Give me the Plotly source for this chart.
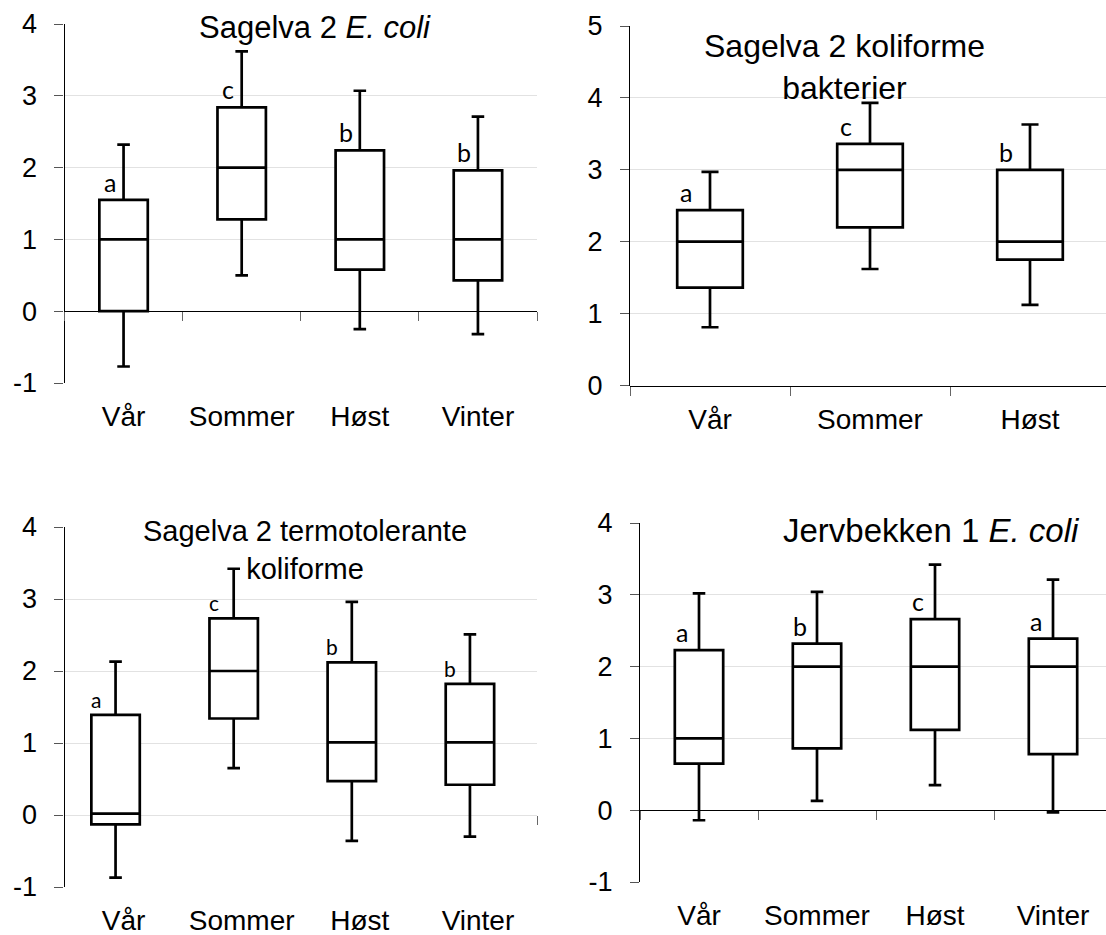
import numpy as np
import plotly.graph_objects as go

W, H = 1106, 935

seasons4 = ["Vår", "Sommer", "Høst", "Vinter"]
seasons3 = ["Vår", "Sommer", "Høst"]

# Sagelva 2, E. coli (log10 values)
s2_ecoli_low = [-0.77, 0.50, -0.25, -0.32]
s2_ecoli_q1 = [0.00, 1.28, 0.58, 0.43]
s2_ecoli_med = [1.00, 2.00, 1.00, 1.00]
s2_ecoli_q3 = [1.55, 2.84, 2.24, 1.96]
s2_ecoli_high = [2.32, 3.62, 3.07, 2.71]
s2_ecoli_sig = ["a", "c", "b", "b"]

# Sagelva 2, koliforme bakterier (no winter samples)
s2_kol_low = [0.81, 1.62, 1.12]
s2_kol_q1 = [1.36, 2.20, 1.75]
s2_kol_med = [2.00, 3.00, 2.00]
s2_kol_q3 = [2.44, 3.36, 3.00]
s2_kol_high = [2.97, 3.93, 3.63]
s2_kol_sig = ["a", "c", "b"]

# Sagelva 2, termotolerante koliforme
s2_tk_low = [-0.87, 0.65, -0.36, -0.30]
s2_tk_q1 = [-0.13, 1.34, 0.47, 0.42]
s2_tk_med = [0.02, 2.00, 1.01, 1.01]
s2_tk_q3 = [1.39, 2.73, 2.12, 1.82]
s2_tk_high = [2.13, 3.42, 2.96, 2.51]
s2_tk_sig = ["a", "c", "b", "b"]

# Jervbekken 1, E. coli
j1_ecoli_low = [-0.14, 0.13, 0.35, -0.03]
j1_ecoli_q1 = [0.65, 0.86, 1.12, 0.78]
j1_ecoli_med = [1.00, 2.00, 2.00, 2.00]
j1_ecoli_q3 = [2.23, 2.32, 2.66, 2.39]
j1_ecoli_high = [3.02, 3.04, 3.42, 3.21]
j1_ecoli_sig = ["a", "b", "c", "a"]

ARIAL = "Liberation Sans, Arial, sans-serif"
CALIBRI = "Lato, Open Sans, sans-serif"

# panel frames in pixels: left, right, top, bottom; slots = category widths visible
panels = [
    dict(title="Sagelva 2 <i>E. coli</i>", tpos=(315, 28), tsize=31,
         cats=seasons4, low=s2_ecoli_low, q1=s2_ecoli_q1, med=s2_ecoli_med,
         q3=s2_ecoli_q3, high=s2_ecoli_high, sig=s2_ecoli_sig,
         frame=(64.5, 537, 24, 383), slots=4.0, yr=(-1, 4),
         box_dx=0, sig_dx=-14, sig_size=25, zero_line=True),
    dict(title="Sagelva 2 koliforme<br>bakterier", tpos=(844, 67), tsize=32,
         cats=seasons3, low=s2_kol_low, q1=s2_kol_q1, med=s2_kol_med,
         q3=s2_kol_q3, high=s2_kol_high, sig=s2_kol_sig,
         frame=(630, 1106, 26, 385.5), slots=476 / 160, yr=(0, 5),
         box_dx=0, sig_dx=-24, sig_size=25, zero_line=True),
    dict(title="Sagelva 2 termotolerante<br>koliforme", tpos=(305, 550), tsize=29,
         cats=seasons4, low=s2_tk_low, q1=s2_tk_q1, med=s2_tk_med,
         q3=s2_tk_q3, high=s2_tk_high, sig=s2_tk_sig,
         frame=(64.5, 537, 527, 887), slots=4.0, yr=(-1, 4),
         box_dx=-8, sig_dx=-20, sig_size=21, zero_line=False),
    dict(title="Jervbekken 1 <i>E. coli</i>", tpos=(931, 530), tsize=33,
         cats=seasons4, low=j1_ecoli_low, q1=j1_ecoli_q1, med=j1_ecoli_med,
         q3=j1_ecoli_q3, high=j1_ecoli_high, sig=j1_ecoli_sig,
         frame=(640, 1106, 523, 882), slots=466 / 118, yr=(-1, 4),
         box_dx=0, sig_dx=-17, sig_size=25, zero_line=True),
]


def ax_key(letter, k):
    return f"{letter}axis" if k == 1 else f"{letter}axis{k}"


def ax_ref(letter, k):
    return letter if k == 1 else f"{letter}{k}"


fig = go.Figure()
layout = dict(template="none", width=W, height=H,
              margin=dict(l=0, r=0, t=0, b=0, pad=0), autosize=False,
              plot_bgcolor="white", paper_bgcolor="white", showlegend=False)
annotations = []

for i, p in enumerate(panels):
    k = i + 1
    kb, kl, kz = k, k + 4, k + 8
    left, right, top, bottom = p["frame"]
    n = len(p["cats"])
    pos = np.arange(n)
    spacing = (right - left) / p["slots"]
    lab_range = [-0.5, -0.5 + p["slots"]]
    shift = -p["box_dx"] / spacing
    box_range = [lab_range[0] + shift, lab_range[1] + shift]
    dom_x = [left / W, min(right / W, 1.0)]
    dom_y = [1 - bottom / H, 1 - top / H]
    y0, y1 = p["yr"]
    yvals = list(range(y0, y1 + 1))

    fig.add_trace(go.Box(
        x=pos, q1=p["q1"], median=p["med"], q3=p["q3"],
        lowerfence=p["low"], upperfence=p["high"],
        width=0.41, whiskerwidth=0.26, boxpoints=False,
        fillcolor="white", line=dict(color="black", width=2.7),
        xaxis=ax_ref("x", kb), yaxis=ax_ref("y", kb), hoverinfo="skip",
    ))
    for kk in (kl, kz):
        fig.add_trace(go.Scatter(x=[None], y=[None], mode="markers",
                                 xaxis=ax_ref("x", kk), yaxis=ax_ref("y", kb),
                                 hoverinfo="skip", showlegend=False))

    layout[ax_key("x", kb)] = dict(
        domain=dom_x, anchor=ax_ref("y", kb), range=box_range,
        showticklabels=False, showgrid=False, zeroline=False,
        showline=False, ticks="", automargin=False)
    layout[ax_key("y", kb)] = dict(
        domain=dom_y, anchor=ax_ref("x", kb), range=[y0, y1],
        tickvals=yvals, ticktext=[str(v) for v in yvals],
        showline=True, linecolor="black", linewidth=1.2,
        ticks="outside", ticklen=9, tickcolor="#555555", tickwidth=1.2,
        showgrid=True, gridcolor="#e2e2e2", gridwidth=1, zeroline=False,
        tickfont=dict(family=ARIAL, size=27, color="black"),
        ticklabelstandoff=12, automargin=False)
    layout[ax_key("x", kl)] = dict(
        domain=dom_x, overlaying=ax_ref("x", kb), anchor=ax_ref("y", kb),
        side="bottom", range=lab_range, tickvals=list(pos),
        ticktext=p["cats"], ticks="", showgrid=False, zeroline=False,
        showline=False, tickfont=dict(family=ARIAL, size=28, color="black"),
        ticklabelstandoff=14, automargin=False)
    zero_pos = dom_y[0] + (0 - y0) / (y1 - y0) * (dom_y[1] - dom_y[0])
    bounds = list(np.arange(n + 1) - 0.5) if p["zero_line"] else [n - 0.5]
    layout[ax_key("x", kz)] = dict(
        domain=dom_x, overlaying=ax_ref("x", kb), anchor="free",
        position=zero_pos, range=lab_range, tickvals=bounds,
        ticks="outside", ticklen=9, tickcolor="#666666", tickwidth=1.2,
        showticklabels=False, showline=p["zero_line"], linecolor="black",
        linewidth=1.2, showgrid=False, zeroline=False, automargin=False)

    # significance letters just above each box, left of the whisker
    for xi, q3v, s in zip(pos, p["q3"], p["sig"]):
        annotations.append(dict(
            x=xi, y=q3v, xref=ax_ref("x", kb), yref=ax_ref("y", kb),
            text=s, showarrow=False, xanchor="center", yanchor="bottom",
            xshift=p["sig_dx"], yshift=1,
            font=dict(family=CALIBRI, size=p["sig_size"], color="black")))

    tx, ty = p["tpos"]
    annotations.append(dict(
        x=tx / W, y=1 - ty / H, xref="paper", yref="paper",
        text=p["title"], showarrow=False, xanchor="center", yanchor="middle",
        font=dict(family=ARIAL, size=p["tsize"], color="black")))

layout["annotations"] = annotations
fig.update_layout(**layout)
fig.write_html("out.html")
